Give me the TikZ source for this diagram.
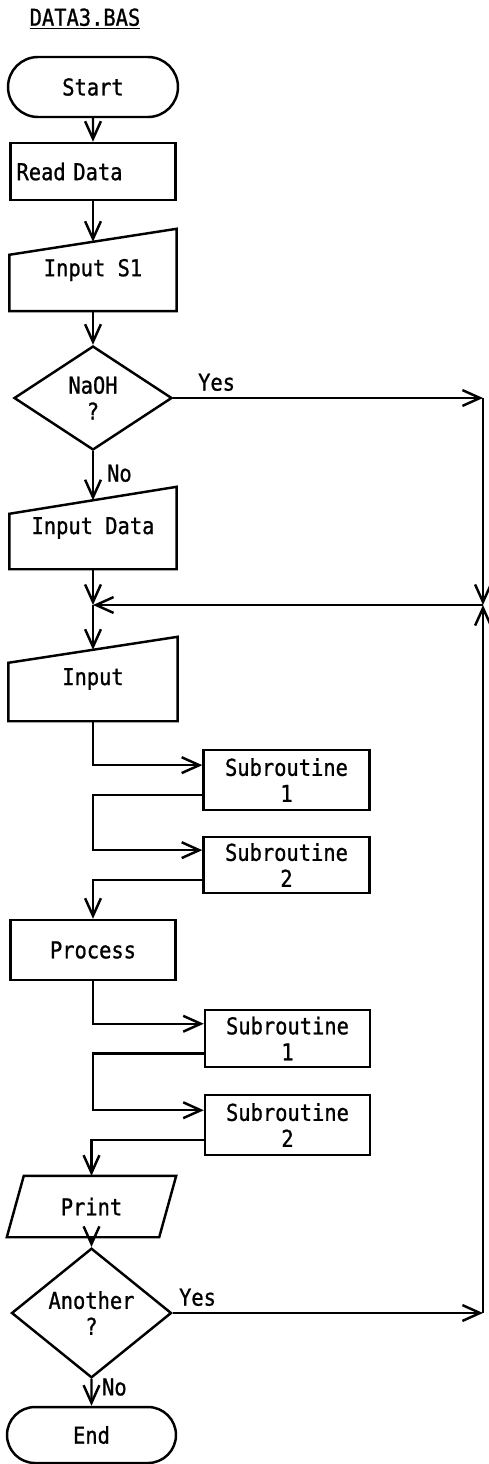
\documentclass[tikz,border=0pt]{standalone}
\usepackage{fontspec}
\newfontfamily\flowfont{DejaVu Sans Mono}[FakeStretch=0.88,FakeBold=1]
\usetikzlibrary{calc,shapes.geometric,shapes.misc,arrows.meta}
\tikzset{
    terminal/.style={
        draw, rounded rectangle, minimum width=3.4cm,
        minimum height=1.2cm, inner sep=0pt
    },
    procbox/.style={
        draw, rectangle, minimum width=3.3cm,
        minimum height=1.2cm, inner sep=0pt
    },
    subbox/.style={procbox, align=center, minimum width=3.32cm},
    inbox/.style={
        rectangle, minimum width=3.3cm, minimum height=1.6cm, inner sep=0pt
    },
    decision/.style={
        draw, diamond, minimum width=3.16cm, minimum height=2.08cm,
        inner sep=0pt, align=center
    }
}

\begin{document}
\begin{tikzpicture}[
        x=0.02cm, y=-0.02cm,
        font=\flowfont\fontsize{13.2pt}{14.8pt}\selectfont,
        line width=1.4pt, >={Straight Barb[length=10pt,width=9pt]}
      ]
  \useasboundingbox (0,0) rectangle (488,1464);

  \node (title) at (85,19) {\underline{DATA3.BAS}};

  % main column
  \node[terminal] (start) at (93,87) {Start};
  \node[procbox, minimum height=1.14cm, text width=3.06cm, align=left] (read) at (93,171.5) {Read Data};
  \node[inbox, yshift=0pt] (ins) at (93,270) {Input S1};
  \node[decision] (naoh) at (93,398) {NaOH\\?};
  \node[inbox] (ind) at (93,528) {Input Data};
  \node[inbox, minimum width=3.34cm, minimum height=1.64cm] (inp) at (93,679) {Input};
  \node[procbox] (proc) at (93,950) {Process};
  \node[inbox, minimum width=3.34cm, minimum height=1.18cm] (prt) at (91.5,1206.5) {Print};
  \node[decision, minimum width=3.2cm, minimum height=2.06cm] (another) at (91.5,1313) {Another\\?};
  \node[terminal, minimum width=3.38cm, minimum height=1.12cm] (end) at (91.5,1435) {End};

  % subroutines
  \node[subbox] (s1a) at (286.5,780) {Subroutine\\1};
  \node[subbox, minimum height=1.12cm] (s2a) at (286.5,865) {Subroutine\\2};
  \node[subbox, minimum width=3.3cm, minimum height=1.14cm] (s1b) at (287.5,1038.5) {Subroutine\\1};
  \node[subbox, minimum width=3.3cm] (s2b) at (287.5,1125) {Subroutine\\2};

  % manual input outlines
  \foreach \n/\d in {ins/26,ind/27,inp/26} {
    \draw (\n.south west) -- ($(\n.north west)+(0,\d)$) -- (\n.north east)
          -- (\n.south east) -- cycle;
    \coordinate (\n-top) at ($(\n.north)+(0,\d/2)$);
  }
  \draw ($(prt.north west)+(17,0)$) -- (prt.north east)
        -- ($(prt.south east)+(-17,0)$) -- (prt.south west) -- cycle;

  \coordinate (rt) at (483,605);
  \coordinate (lt) at (93,605);

  \draw[->] (start) -- (read);
  \draw[->] (read) -- (ins-top);
  \draw[->] (ins) -- (naoh);
  \draw[->] (naoh) -- node[right, xshift=4pt, pos=0.45] {No} (ind-top);
  \draw[->] (naoh.east) -- node[above, pos=0.14] {Yes} (naoh.east -| rt);
  \draw[->] (naoh.east -| rt) -- (rt);
  \draw[->] (ind) -- (lt);
  \draw[->] (rt) -- (lt);
  \draw[->] (lt) -- (inp-top);

  \draw[->] (inp) |- (s1a.170);
  \draw[->] (s1a.190) -- (s1a.190 -| inp.south) |- (s2a.170);
  \draw[->] (s2a.190) -| (proc);
  \draw[->] (proc) |- (s1b.170);
  \draw[->] (s1b.190) -- (s1b.190 -| proc.south) |- (s2b.170);
  \draw[->] (s2b.190) -| (prt);

  \draw[->] (prt) -- (another);
  \draw[->] (another) -- node[right, xshift=2pt, pos=0.3] {No} (end);
  \draw[->] (another.east) -- node[above, pos=0.08] {Yes} (another.east -| rt);
  \draw[->] (another.east -| rt) -- (rt);

\end{tikzpicture}
\end{document}
